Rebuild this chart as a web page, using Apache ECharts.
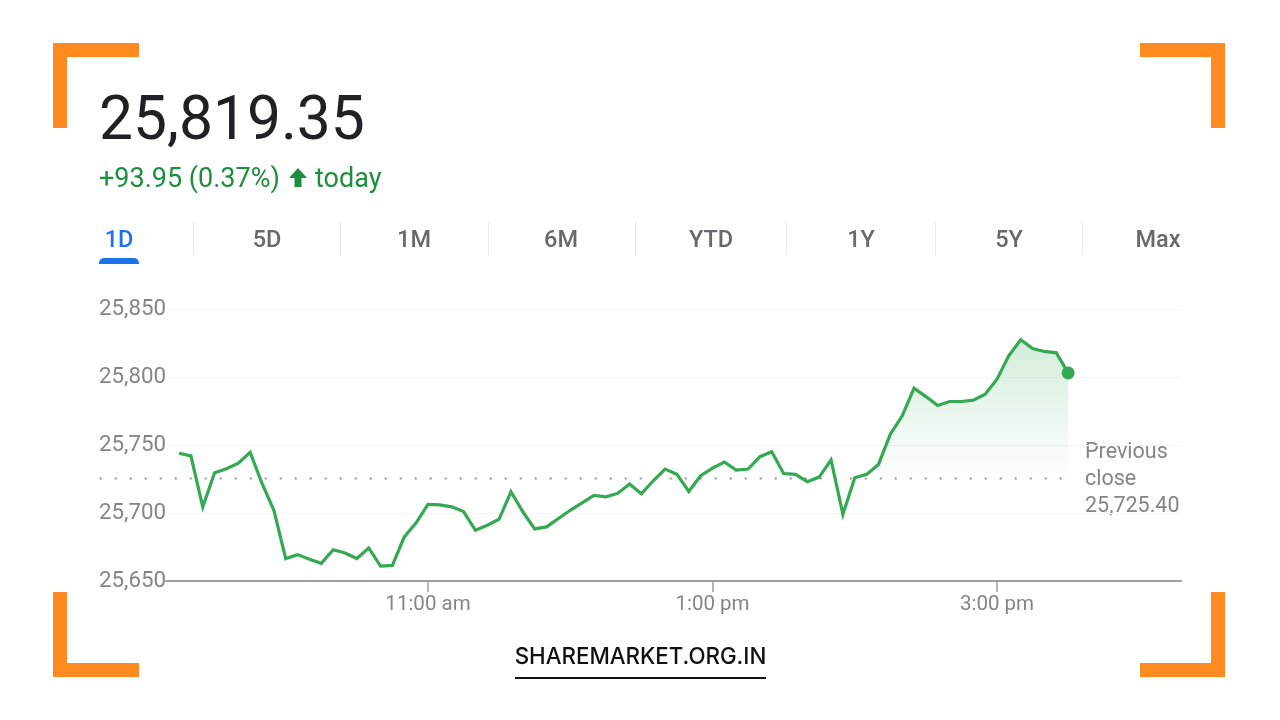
<!DOCTYPE html>
<html>
<head>
<meta charset="utf-8">
<title>25,819.35</title>
<style>
html,body{margin:0;padding:0;background:#fff;}
#chart{width:1280px;height:720px;}
</style>
<script src="https://cdn.jsdelivr.net/npm/echarts@6/dist/echarts.min.js"></script>
</head>
<body>
<div id="chart"></div>
<script>
// minutes after midnight, one reading every 5 min from 9:15 to 15:30
var times = [555,560,565,570,575,580,585,590,595,600,605,610,615,620,625,630,635,640,645,650,655,660,665,670,675,680,685,690,695,700,705,710,715,720,725,730,735,740,745,750,755,760,765,770,775,780,785,790,795,800,805,810,815,820,825,830,835,840,845,850,855,860,865,870,875,880,885,890,895,900,905,910,915,920,925,930];
var prices = [25743.9,25742,25704.5,25729.6,25732.6,25736.7,25744.6,25721.7,25702,25666.5,25669.4,25666,25663,25673,25670.6,25666.5,25674.3,25661,25661.5,25682.4,25692.8,25706.3,25706,25704.5,25701,25687.3,25691,25695.5,25715.6,25700.9,25688.3,25689.8,25696,25702,25707.5,25712.9,25711.9,25714.4,25721.3,25714.1,25723.7,25732.3,25728.4,25715.8,25727.4,25733,25737.5,25731.6,25732.3,25741.4,25745,25729,25728.4,25723,25726.4,25739,25699,25725.9,25728.4,25735.7,25758,25771.4,25791.8,25785.6,25779,25782,25782,25783,25787.3,25798.4,25815.8,25827.4,25821,25818.8,25817.8,25803];
var prevClose = 25725.40;
var prevCloseSpan = [521.5,932];
var xTicks = [660,780,900];
var xTickLabels = ['11:00 am','1:00 pm','3:00 pm'];
var yTicks = [25650,25700,25750,25800,25850];
var tabs = ['1D','5D','1M','6M','YTD','1Y','5Y','Max'];
var tabCenters = [119,267,414,561,711,861,1009,1158];
var tabDividers = [193,340,488,635,786,935,1082];

var FONT = 'Roboto, Arial, sans-serif';
var ORANGE = '#ff8a1f';
var GRAY = '#80868b';
var GREEN = '#34a853';
var UP = '#1e8e3e';

var linePairs = [];
for(var i=0;i<times.length;i++){
	linePairs.push([times[i],prices[i]]);
}

function bracket(x,y,w,h,cornerX,cornerY){
	// two orange bars meeting in a corner
	return [
		{type:'rect',shape:{x:x,y:cornerY,width:w,height:14},style:{fill:ORANGE},silent:true},
		{type:'rect',shape:{x:cornerX,y:y,width:14,height:h},style:{fill:ORANGE},silent:true}
	];
}

var graphics = [];
graphics = graphics.concat(bracket(53,43,86,85,53,43));
graphics = graphics.concat(bracket(1140,43,85,85,1211,43));
graphics = graphics.concat(bracket(53,592,86,85,53,663));
graphics = graphics.concat(bracket(1140,592,85,85,1211,663));

graphics.push({type:'text',x:99,y:124,style:{text:'25,819.35',font:'400 60.5px '+FONT,fill:'#202124',textVerticalAlign:'middle'},silent:true});
graphics.push({type:'text',x:99,y:180,style:{text:'+93.95 (0.37%)',font:'400 27px '+FONT,fill:UP,textVerticalAlign:'middle'},silent:true});
graphics.push({type:'polygon',shape:{points:[[298,168],[307,178],[301.5,178],[301.5,187],[294.5,187],[294.5,178],[289,178]]},style:{fill:UP},silent:true});
graphics.push({type:'text',x:315,y:180,style:{text:'today',font:'400 27px '+FONT,fill:UP,textVerticalAlign:'middle'},silent:true});

for(var t=0;t<tabs.length;t++){
	graphics.push({type:'text',x:tabCenters[t],y:241,style:{text:tabs[t],font:'500 23.5px '+FONT,fill:t==0?'#1a73e8':'#666a6e',textAlign:'center',textVerticalAlign:'middle'},silent:true});
}
for(var d=0;d<tabDividers.length;d++){
	graphics.push({type:'rect',shape:{x:tabDividers[d],y:222,width:1,height:33},style:{fill:'#e8eaed'},silent:true});
}
graphics.push({type:'rect',shape:{x:99,y:258,width:40,height:6,r:[5,5,0,0]},style:{fill:'#1a73e8'},silent:true});

graphics.push({type:'text',x:1085,y:480,style:{text:'Previous\nclose\n25,725.40',font:'400 21.5px '+FONT,lineHeight:27,fill:GRAY,textVerticalAlign:'middle'},silent:true});

graphics.push({type:'text',x:640.5,y:657,style:{text:'SHAREMARKET.ORG.IN',font:'500 22.3px Inter, '+FONT,fill:'#111111',textAlign:'center',textVerticalAlign:'middle'},silent:true});
graphics.push({type:'rect',shape:{x:515,y:677,width:251,height:2},style:{fill:'#111111'},silent:true});

var myChart = echarts.init(document.getElementById('chart'),null,{renderer:'canvas'});
var option = {
	animation:false,
	backgroundColor:'#ffffff',
	textStyle:{fontFamily:FONT},
	grid:[
		{left:166,right:99,top:309,height:272},
		// wider twin grid, the dotted close line runs out under the y labels
		{left:99,right:99,top:309,height:272}
	],
	xAxis:[
		{
			type:'value',
			min:549.5,
			max:977.6,
			axisLine:{lineStyle:{color:'#9aa0a6',width:2}},
			axisTick:{show:true,customValues:xTicks,length:11,lineStyle:{color:'#9aa0a6',width:1.5}},
			axisLabel:{
				customValues:xTicks,
				color:GRAY,
				fontSize:20.5,
				margin:13,
				formatter:function(v){
					return xTickLabels[xTicks.indexOf(v)];
				}
			},
			splitLine:{show:false}
		},
		{type:'value',gridIndex:1,min:521.2,max:977.6,show:false}
	],
	yAxis:[
		{
			type:'value',
			min:yTicks[0],
			max:yTicks[yTicks.length-1],
			interval:50,
			axisLine:{show:false},
			axisTick:{show:false},
			axisLabel:{
				color:GRAY,
				fontSize:22.3,
				align:'left',
				margin:67,
				padding:[5,0,0,0],
				formatter:function(v){
					return echarts.format.addCommas(v);
				}
			},
			splitLine:{lineStyle:{color:'#f4f5f5',width:1}}
		},
		{type:'value',gridIndex:1,min:yTicks[0],max:yTicks[yTicks.length-1],interval:50,show:false}
	],
	series:[
		{
			name:'previous close',
			type:'line',
			xAxisIndex:1,
			yAxisIndex:1,
			symbol:'none',
			silent:true,
			lineStyle:{color:'#8f9498',width:2,type:[2,13]},
			data:[[prevCloseSpan[0],prevClose],[prevCloseSpan[1],prevClose]],
			z:1
		},
		{
			name:'price',
			type:'line',
			symbol:'none',
			smooth:false,
			lineStyle:{color:GREEN,width:3.2,join:'miter'},
			areaStyle:{
				color:new echarts.graphic.LinearGradient(0,0,0,1,[
					{offset:0,color:'rgba(52,168,83,0.30)'},
					{offset:0.6,color:'rgba(52,168,83,0.0)'},
					{offset:1,color:'rgba(52,168,83,0.0)'}
				])
			},
			data:linePairs,
			z:2
		},
		{
			name:'last',
			type:'scatter',
			symbolSize:13,
			itemStyle:{color:GREEN,opacity:1},
			data:[linePairs[linePairs.length-1]],
			z:3
		}
	],
	graphic:graphics
};
myChart.setOption(option);
</script>
</body>
</html>
